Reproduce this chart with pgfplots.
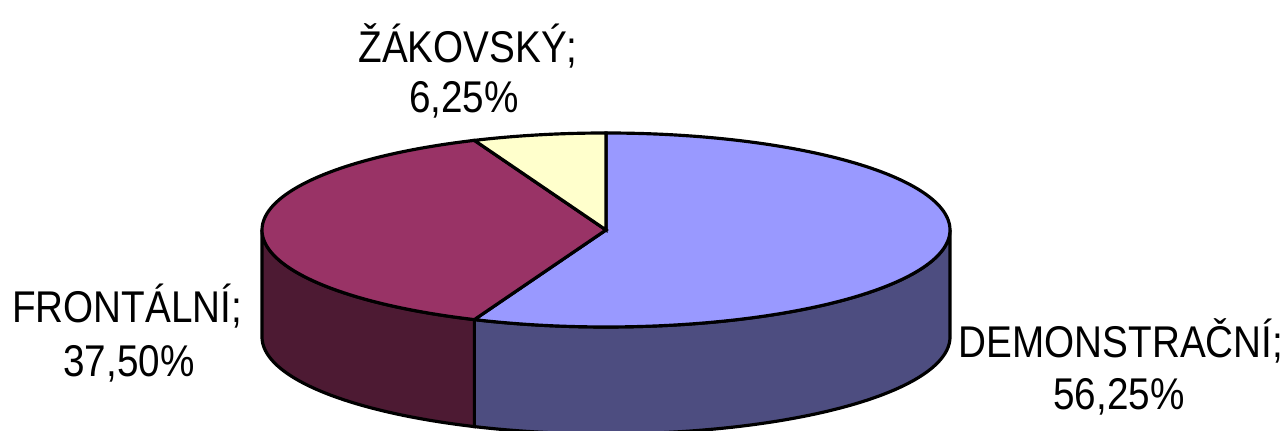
\documentclass[border=0pt]{standalone}
\usepackage{fontspec}
\setmainfont{Liberation Sans}
\usepackage{graphicx}
\usepackage{pgfplots}
\pgfplotsset{compat=1.18}
\usepgfplotslibrary{fillbetween}

\definecolor{topA}{HTML}{9999FF}
\definecolor{sideA}{HTML}{4D4D80}
\definecolor{topB}{HTML}{993366}
\definecolor{sideB}{HTML}{4D1A33}
\definecolor{topC}{HTML}{FFFFCC}

% data (percent)
\def\valA{56.25}% DEMONSTRACNI
\def\valB{37.50}% FRONTALNI
\def\valC{6.25}%  ZAKOVSKY
% geometry of the 3D pie (in pixel units)
\def\cx{606}\def\cy{201}\def\rx{344}\def\ry{97}\def\dep{107}
\pgfmathsetmacro\aA{90}
\pgfmathsetmacro\aB{90-3.6*\valA}
\pgfmathsetmacro\aC{\aB-3.6*\valB}
\pgfmathsetmacro\aD{\aC-3.6*\valC}

\newcommand\lbl[1]{\fontsize{11}{13}\selectfont\scalebox{1}[1.15]{#1}}

\begin{document}
\begin{tikzpicture}
\begin{axis}[hide axis, scale only axis, width=12.85cm, height=4.31cm,
  xmin=0, xmax=1285, ymin=0, ymax=431, clip=false]
% side of slice A
\addplot[name path=sAt, draw=none, domain=\aB:0, samples=100, variable=\t]
  ({\cx+\rx*cos(t)},{\cy+\ry*sin(t)});
\addplot[name path=sAb, draw=none, domain=\aB:0, samples=100, variable=\t]
  ({\cx+\rx*cos(t)},{\cy-\dep+\ry*sin(t)});
\addplot[fill=sideA, draw=black, line width=0.9pt] fill between[of=sAt and sAb];
% side of slice B
\addplot[name path=sBt, draw=none, domain=-180:\aB, samples=80, variable=\t]
  ({\cx+\rx*cos(t)},{\cy+\ry*sin(t)});
\addplot[name path=sBb, draw=none, domain=-180:\aB, samples=80, variable=\t]
  ({\cx+\rx*cos(t)},{\cy-\dep+\ry*sin(t)});
\addplot[fill=sideB, draw=black, line width=0.9pt] fill between[of=sBt and sBb];
% top faces
\addplot[fill=topA, draw=black, line width=0.9pt, domain=\aB:\aA, samples=150, variable=\t]
  ({\cx+\rx*cos(t)},{\cy+\ry*sin(t)}) -- (\cx,\cy) -- cycle;
\addplot[fill=topB, draw=black, line width=0.9pt, domain=\aC:\aB, samples=120, variable=\t]
  ({\cx+\rx*cos(t)},{\cy+\ry*sin(t)}) -- (\cx,\cy) -- cycle;
\addplot[fill=topC, draw=black, line width=0.9pt, domain=\aD:\aC, samples=30, variable=\t]
  ({\cx+\rx*cos(t)},{\cy+\ry*sin(t)}) -- (\cx,\cy) -- cycle;
% labels
\node[anchor=base, inner sep=0pt] at (axis cs:468,368) {\lbl{ŽÁKOVSKÝ;}};
\node[anchor=base, inner sep=0pt] at (axis cs:464,318) {\lbl{6,25\%}};
\node[anchor=base, inner sep=0pt] at (axis cs:127,108) {\lbl{FRONTÁLNÍ;}};
\node[anchor=base, inner sep=0pt] at (axis cs:129,54) {\lbl{37,50\%}};
\node[anchor=base, inner sep=0pt] at (axis cs:1121,73) {\lbl{DEMONSTRAČNÍ;}};
\node[anchor=base, inner sep=0pt] at (axis cs:1119,21) {\lbl{56,25\%}};
\end{axis}
\pgfresetboundingbox
\path (0,0) rectangle (12.85cm,4.31cm);
\end{tikzpicture}
\end{document}
